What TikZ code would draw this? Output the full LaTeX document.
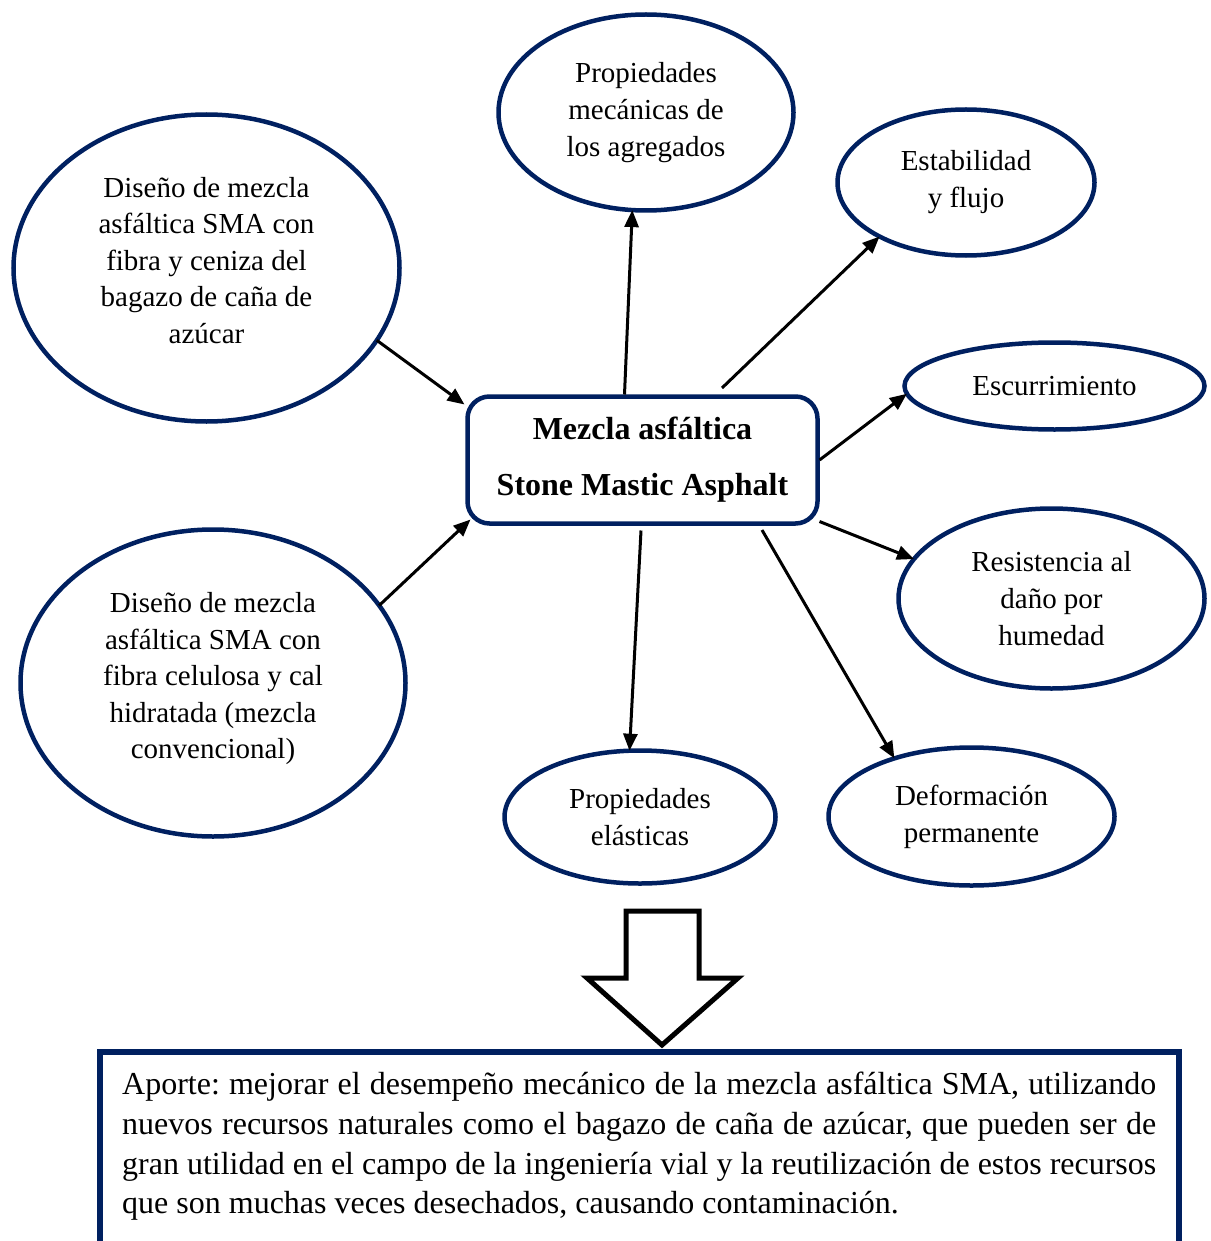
\documentclass[tikz,border=0pt]{standalone}
\usepackage{fontspec}
\setmainfont{Liberation Serif}
\usetikzlibrary{arrows.meta,shapes.geometric,calc}
\definecolor{navy}{RGB}{0,32,96}
\begin{document}
\begin{tikzpicture}[x=1pt,y=-1pt,
  bubble/.style={ellipse,draw=navy,line width=4.5pt,inner sep=0pt,outer sep=0pt,
    align=center,font=\fontsize{29}{37}\selectfont},
  bubbletext/.style={inner sep=0pt,align=center,font=\fontsize{29}{36.5}\selectfont},
  core/.style={rectangle,rounded corners=22pt,draw=navy,line width=4.5pt,
    inner sep=0pt,outer sep=0pt,align=center,minimum width=350pt,minimum height=127pt,
    font=\fontsize{32}{56}\selectfont\bfseries},
  link/.style={line width=3pt,-{Triangle[length=17pt,width=14pt]}},
  frame/.style={draw=navy,line width=6pt},
  bigarrow/.style={draw=black,fill=white,line width=5pt,line join=miter},
]
\useasboundingbox (0,0) rectangle (1210,1241);

% central node
\node[core] (core) at (642.5,460) {Mezcla asfáltica\\Stone Mastic Asphalt};

% inputs on the left (outline and wording set separately)
\node[bubble,minimum width=386pt,minimum height=307pt] (lt) at (206.5,268) {};
\node[bubbletext] (lt-text) at (206.5,260.5)
  {Diseño de mezcla\\asfáltica SMA con\\fibra y ceniza del\\bagazo de caña de\\azúcar};
\node[bubble,minimum width=385pt,minimum height=307pt] (lb) at (213,683) {};
\node[bubbletext] (lb-text) at (213,679)
  {Diseño de mezcla\\asfáltica SMA con\\fibra celulosa y cal\\hidratada (mezcla\\convencional)};

% properties evaluated
\node[bubble,minimum width=295pt,minimum height=196pt] (pm) at (646,112.5)
  {Propiedades\\mecánicas de\\los agregados};
\node[bubble,minimum width=257pt,minimum height=146pt] (ef) at (966,182.5)
  {Estabilidad\\y flujo};
\node[bubble,minimum width=300pt,minimum height=87pt] (esc) at (1054.5,386)
  {Escurrimiento};
\node[bubble,minimum width=306pt,minimum height=180pt] (res) at (1051.5,598.5)
  {Resistencia al\\daño por\\humedad};
\node[bubble,minimum width=286pt,minimum height=138pt] (def) at (971.5,816.5)
  {Deformación\\permanente};
\node[bubble,minimum width=271pt,minimum height=133pt] (pe) at (640,817)
  {Propiedades\\elásticas};

% connectors
\draw[link] (lt.-23) -- ($(core.north west)+(-3,8)$);
\draw[link] (lb.25) -- ($(core.south west)+(3,-4)$);
\draw[link] ($(core.north west)+(157,-2)$) -- (pm.262);
\draw[link] ($(core.north west)+(254.5,-8.5)$) -- (ef.212);
\draw[link] ($(core.east)+(2,0)$) -- (esc.183);
\draw[link] ($(core.south east)+(2,-2)$) -- (res.164);
\draw[link] ($(core.south)+(-1.5,7)$) -- (pe.99);
\draw[link] ($(core.south west)+(294.5,6.5)$) -- (def.143);

% block arrow towards the contribution
\draw[bigarrow] (626,911) -- (699,911) -- (699,978) -- (738,978) -- (662,1045)
  -- (587,978) -- (626,978) -- cycle;

% contribution box, open at the lower edge
\draw[frame] (100.3,1265) -- (100.3,1052) -- (1179,1052) -- (1179,1265);
\node[anchor=north west,inner sep=0pt,text width=1034pt,align=justify,
  font=\fontsize{32}{39.7}\selectfont\frenchspacing] (aporte) at (122,1072)
  {Aporte: mejorar el desempeño mecánico de la mezcla asfáltica SMA, utilizando\linebreak
   nuevos recursos naturales como el bagazo de caña de azúcar, que pueden ser de\linebreak
   gran utilidad en el campo de la ingeniería vial y la reutilización de estos recursos\linebreak
   que son muchas veces desechados, causando contaminación.};
\end{tikzpicture}
\end{document}
